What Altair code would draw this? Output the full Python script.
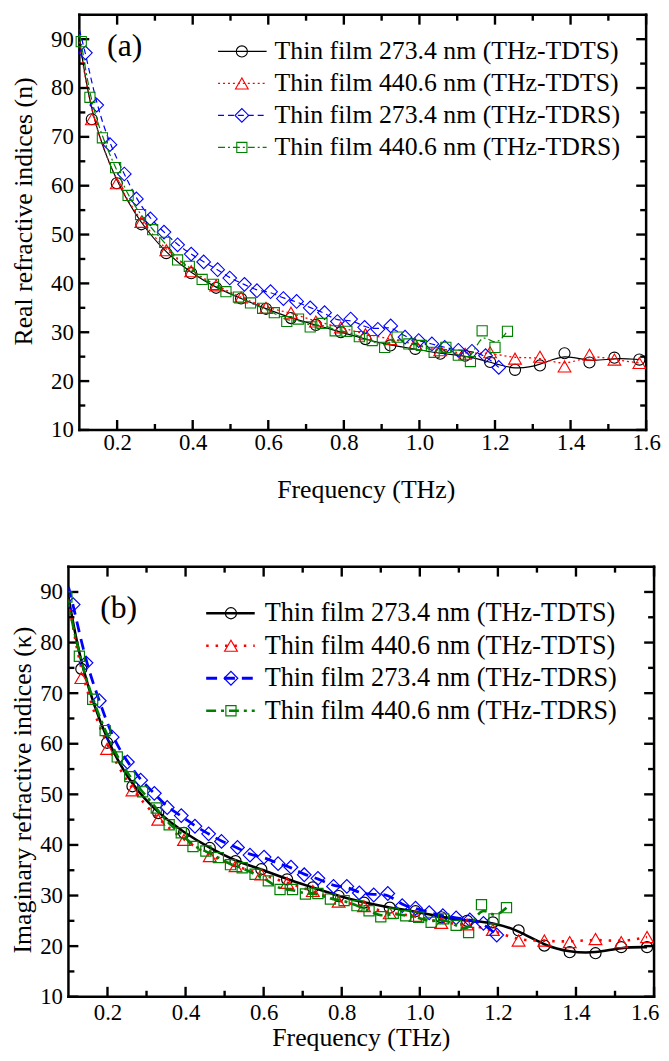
import altair as alt
import pandas as pd

FONT = "'Liberation Serif', 'Times New Roman', Times, serif"

SERIES = [
    "Thin film 273.4 nm (THz-TDTS)",
    "Thin film 440.6 nm (THz-TDTS)",
    "Thin film 273.4 nm (THz-TDRS)",
    "Thin film 440.6 nm (THz-TDRS)",
]

X_MAJOR = [0.2, 0.4, 0.6, 0.8, 1.0, 1.2, 1.4, 1.6]
X_MINOR = [0.3, 0.5, 0.7, 0.9, 1.1, 1.3, 1.5]
Y_MAJOR = [10, 20, 30, 40, 50, 60, 70, 80, 90]
Y_MINOR = [15, 25, 35, 45, 55, 65, 75, 85]

# ---------------- panel (a): real refractive index ----------------
A_TDTS_F = [0.133, 0.199, 0.264, 0.330, 0.396, 0.462, 0.528, 0.594, 0.660, 0.726, 0.792, 0.857,
            0.923, 0.989, 1.055, 1.121, 1.187, 1.253, 1.319, 1.384, 1.450, 1.516, 1.582]
A_273T_V = [73.6, 60.5, 52.1, 46.2, 42.1, 39.1, 36.9, 34.8, 32.9, 31.5, 30.0, 28.6,
            27.3, 26.6, 25.6, 25.2, 23.9, 22.3, 23.2, 25.7, 23.8, 24.8, 24.4]
A_440T_V = [73.6, 60.5, 52.6, 46.8, 42.5, 39.6, 37.1, 35.0, 34.0, 32.2, 31.0, 29.6,
            28.6, 27.6, 26.3, 25.6, 25.9, 24.6, 25.0, 23.0, 25.4, 24.4, 23.7]
A_273R_F = [0.116, 0.146, 0.181, 0.219, 0.251, 0.288, 0.324, 0.360, 0.396, 0.429, 0.466, 0.498,
            0.537, 0.570, 0.606, 0.640, 0.675, 0.711, 0.749, 0.783, 0.818, 0.855, 0.890, 0.924,
            0.962, 0.998, 1.033, 1.067, 1.103, 1.139, 1.175, 1.210]
A_273R_V = [87.2, 76.5, 68.4, 62.4, 57.3, 53.2, 50.5, 47.9, 46.0, 44.4, 42.8, 41.1,
            39.8, 38.5, 38.3, 36.9, 36.3, 35.0, 34.0, 32.2, 32.7, 31.0, 30.6, 31.3,
            29.0, 28.3, 27.6, 26.9, 26.3, 26.1, 25.2, 22.8]
A_440R_F = [0.105, 0.128, 0.161, 0.196, 0.229, 0.262, 0.294, 0.326, 0.360, 0.391, 0.425, 0.455,
            0.488, 0.521, 0.553, 0.585, 0.616, 0.649, 0.680, 0.711, 0.742, 0.777, 0.808, 0.841,
            0.875, 0.908, 0.941, 0.972, 1.005, 1.039, 1.070, 1.103, 1.135, 1.166, 1.200, 1.233]
A_440R_V = [89.5, 78.1, 69.8, 63.7, 58.0, 54.1, 51.0, 48.4, 44.8, 43.5, 40.8, 39.8,
            38.3, 37.2, 36.0, 34.9, 34.0, 32.2, 32.7, 31.1, 31.8, 30.3, 30.2, 29.1,
            28.3, 26.9, 29.0, 27.6, 27.3, 25.9, 26.9, 25.3, 24.0, 30.3, 26.9, 30.2]
# value of each curve where it enters the frame at 0.1 THz (None: starts at first marker)
A_LEAD = [90.0, 89.5, 92.0, 91.0]

# ---------------- panel (b): imaginary refractive index ----------------
B_TDTS_F = A_TDTS_F
B_273T_V = [74.8, 60.2, 51.6, 46.3, 42.4, 39.4, 36.8, 35.2, 33.2, 31.6, 29.9, 28.6,
            27.6, 26.9, 25.7, 25.0, 24.7, 23.1, 20.1, 18.8, 18.6, 19.8, 19.8]
B_440T_V = [73.0, 59.0, 50.8, 45.0, 41.0, 37.8, 35.8, 34.2, 32.5, 30.9, 28.8, 27.9,
            26.5, 26.0, 24.6, 24.3, 23.2, 21.1, 21.1, 20.8, 21.4, 20.8, 21.8]
B_273R_F = [0.112, 0.145, 0.179, 0.212, 0.251, 0.285, 0.320, 0.353, 0.389, 0.424, 0.459, 0.492,
            0.533, 0.565, 0.601, 0.637, 0.670, 0.704, 0.739, 0.779, 0.813, 0.845, 0.882, 0.918,
            0.955, 0.989, 1.024, 1.059, 1.093, 1.128, 1.163, 1.197]
B_273R_V = [87.5, 76.0, 68.5, 61.3, 56.4, 52.8, 50.2, 47.4, 45.8, 43.7, 42.2, 40.7,
            39.5, 38.0, 37.6, 36.3, 35.6, 34.1, 33.4, 31.8, 31.8, 30.5, 30.1, 30.4,
            28.0, 27.5, 26.6, 26.0, 25.6, 25.2, 24.5, 22.2]
B_440R_F = [0.096, 0.128, 0.162, 0.194, 0.225, 0.257, 0.290, 0.325, 0.358, 0.389, 0.419, 0.452,
            0.484, 0.515, 0.545, 0.578, 0.612, 0.642, 0.674, 0.707, 0.739, 0.771, 0.806, 0.839,
            0.870, 0.900, 0.932, 0.964, 0.997, 1.029, 1.061, 1.093, 1.125, 1.158, 1.190, 1.222]
B_440R_V = [89.0, 77.3, 68.8, 62.6, 57.4, 53.5, 50.5, 47.3, 44.0, 42.4, 39.7, 38.8,
            37.5, 36.1, 35.5, 34.2, 32.9, 31.2, 31.2, 30.3, 30.4, 29.3, 29.0, 28.0,
            27.0, 25.8, 26.5, 26.0, 25.7, 24.7, 25.4, 24.1, 22.7, 28.2, 25.4, 27.6]
B_LEAD = [89.0, 88.5, 91.0, None]

COLORS = ["black", "#ff0000", "#0000ff", "#008000"]
SHAPES = ["circle", "triangle-up", "diamond", "square"]
SIZES = [125, 165, 190, 105]

STYLE_A = dict(width=[1.2, 1.3, 1.2, 1.2],
               dash=[None, [2, 3], [6, 4], [7, 3, 2, 3]], mw=1.1)
STYLE_B = dict(width=[2.6, 2.6, 2.8, 2.6],
               dash=[None, [2.5, 7], [11, 7], [10, 5, 3, 5]], mw=1.2)


def panel(series, x0, W, H, ytitle, ytitle_y, xtitle_x, plabel, plabel_xy, leg, style,
          xlabpad, xtitlepad, ylabpad, ytitlepad, flush):
    # x0: where the frame starts inside the view (the frame spans x0..W)
    xs = alt.Scale(domain=[0.1, 1.6], nice=False, zero=False, range=[x0, W])
    ys = alt.Scale(domain=[10, 95], nice=False, zero=False)
    xkw = dict(values=X_MAJOR, format=".1f", title="Frequency (THz)",
               ticks=False, tickSize=0, domain=False, grid=False,
               labelFont=FONT, labelFontSize=23, labelColor="black",
               labelPadding=xlabpad, labelOverlap=False,
               titleFont=FONT, titleFontSize=26, titleFontWeight="normal",
               titleColor="black", titlePadding=xtitlepad, titleX=xtitle_x)
    if flush:
        xkw["labelFlush"] = True
        xkw["labelFlushOffset"] = 5
    else:
        xkw["labelFlush"] = False
    xaxis = alt.Axis(**xkw)
    yaxis = alt.Axis(values=Y_MAJOR, format="d", title=ytitle, offset=-x0,
                     ticks=False, tickSize=0, domain=False, grid=False,
                     labelFont=FONT, labelFontSize=23, labelColor="black",
                     labelPadding=ylabpad, labelFlush=False, labelOverlap=False,
                     titleFont=FONT, titleFontSize=26, titleFontWeight="normal",
                     titleColor="black", titlePadding=ytitlepad, titleY=ytitle_y)
    X = alt.X("f:Q", scale=xs, axis=xaxis)
    Y = alt.Y("v:Q", scale=ys, axis=yaxis)

    layers = []
    one = pd.DataFrame({"k": [0]})
    # frame
    for enc in (dict(x=alt.value(x0), x2=alt.value(W), y=alt.value(0)),
                dict(x=alt.value(x0), x2=alt.value(W), y=alt.value(H)),
                dict(x=alt.value(x0), y=alt.value(0), y2=alt.value(H)),
                dict(x=alt.value(W), y=alt.value(0), y2=alt.value(H))):
        layers.append(alt.Chart(one).mark_rule(color="black", strokeWidth=2.5,
                                               strokeCap="square").encode(**enc))
    # inward ticks on all four sides
    for vals, L in ((X_MAJOR, 10), (X_MINOR, 6)):
        d = pd.DataFrame({"f": vals})
        for y0, y1 in ((H, H - L), (0, L)):
            layers.append(alt.Chart(d).mark_rule(color="black", strokeWidth=2.4).encode(
                x=X, y=alt.value(y0), y2=alt.value(y1)))
    for vals, L in ((Y_MAJOR, 10), (Y_MINOR, 6)):
        d = pd.DataFrame({"v": vals})
        for xa, xb in ((x0, x0 + L), (W, W - L)):
            layers.append(alt.Chart(d).mark_rule(color="black", strokeWidth=2.4).encode(
                y=Y, x=alt.value(xa), x2=alt.value(xb)))

    # data curves and markers
    for i, (fr, val, lead) in enumerate(series):
        mk = pd.DataFrame({"f": fr, "v": val})
        if lead is not None:
            ln = pd.concat([pd.DataFrame({"f": [0.1], "v": [lead]}), mk], ignore_index=True)
        else:
            ln = mk
        lkw = dict(interpolate="basis", clip=True, color=COLORS[i],
                   strokeWidth=style["width"][i])
        if style["dash"][i] is not None:
            lkw["strokeDash"] = style["dash"][i]
        layers.append(alt.Chart(ln).mark_line(**lkw).encode(x=X, y=Y))
        layers.append(alt.Chart(mk).mark_point(
            shape=SHAPES[i], filled=False, size=SIZES[i], color=COLORS[i],
            strokeWidth=style["mw"], opacity=1, clip=True).encode(x=X, y=Y))

    # legend inside the frame
    lx0, lx1, lmx, ltx, ly0, ldy, lfs = leg
    for i, name in enumerate(SERIES):
        d = pd.DataFrame({"label": [name]})
        yy = ly0 + i * ldy
        rkw = dict(color=COLORS[i], strokeWidth=style["width"][i])
        if style["dash"][i] is not None:
            rkw["strokeDash"] = style["dash"][i]
        layers.append(alt.Chart(d).mark_rule(**rkw).encode(
            x=alt.value(lx0), x2=alt.value(lx1), y=alt.value(yy)))
        layers.append(alt.Chart(d).mark_point(
            shape=SHAPES[i], filled=False, size=SIZES[i], color=COLORS[i],
            strokeWidth=style["mw"], opacity=1).encode(x=alt.value(lmx), y=alt.value(yy)))
        layers.append(alt.Chart(d).mark_text(
            align="left", baseline="middle", font=FONT, fontSize=lfs, color="black").encode(
            x=alt.value(ltx), y=alt.value(yy), text="label:N"))

    d = pd.DataFrame({"lab": [plabel]})
    layers.append(alt.Chart(d).mark_text(
        align="left", baseline="middle", font=FONT, fontSize=32, color="black").encode(
        x=alt.value(plabel_xy[0]), y=alt.value(plabel_xy[1]), text="lab:N"))

    return alt.layer(*layers).properties(width=W, height=H)


series_a = [(A_TDTS_F, A_273T_V, A_LEAD[0]), (A_TDTS_F, A_440T_V, A_LEAD[1]),
            (A_273R_F, A_273R_V, A_LEAD[2]), (A_440R_F, A_440R_V, A_LEAD[3])]
series_b = [(B_TDTS_F, B_273T_V, B_LEAD[0]), (B_TDTS_F, B_440T_V, B_LEAD[1]),
            (B_273R_F, B_273R_V, B_LEAD[2]), (B_440R_F, B_440R_V, B_LEAD[3])]

pa = panel(series_a, 11, 583, 419, "Real refractive indices (n)", 198, 300, "(a)", (39, 32),
           (151, 200, 175, 208, 37, 32.3, 26), STYLE_A,
           xlabpad=2, xtitlepad=22, ylabpad=6, ytitlepad=14, flush=False)
pb = panel(series_b, 0, 591, 434, "Imaginary refractive indices (\u03ba)", 225, 295, "(b)", (32, 42),
           (139, 188, 164, 198, 47, 32.8, 26.5), STYLE_B,
           xlabpad=5, xtitlepad=0, ylabpad=6, ytitlepad=4, flush=True)

chart = alt.concat(pa, pb, columns=1, spacing=63).properties(
    padding={"left": 2, "top": 0, "right": 0, "bottom": 0}
).configure_view(strokeWidth=0)

chart.save("out.html", embed_options={"renderer": "svg", "actions": False})
